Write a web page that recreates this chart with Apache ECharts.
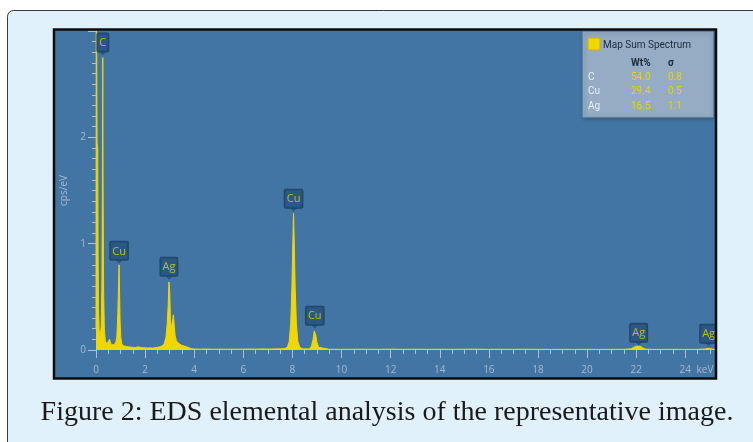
<!DOCTYPE html>
<html>
<head>
<meta charset="utf-8">
<script src="https://cdn.jsdelivr.net/npm/echarts@6/dist/echarts.min.js"></script>
<style>
html,body{margin:0;padding:0;background:#ffffff;}
#chart{width:753px;height:442px;}
</style>
</head>
<body>
<div id="chart"></div>
<script>
// ---- Data ----
const energy = [
  0.00, 0.01, 0.03, 0.045, 0.07, 0.085, 0.10, 0.13, 0.17, 0.21, 0.24, 0.26, 0.275, 0.29, 0.31, 0.34,
  0.38, 0.42, 0.45, 0.50, 0.55, 0.58, 0.62, 0.68, 0.74, 0.80, 0.85, 0.89, 0.92, 0.94, 0.955, 0.98,
  1.01, 1.05, 1.10, 1.20, 1.30, 1.40, 1.50, 1.60, 1.70, 1.75, 1.80, 1.90, 2.00, 2.10, 2.20, 2.30,
  2.40, 2.50, 2.60, 2.70, 2.78, 2.85, 2.90, 2.94, 2.97, 3.00, 3.03, 3.07, 3.11, 3.15, 3.18, 3.22,
  3.27, 3.33, 3.40, 3.48, 3.55, 3.62, 3.70, 3.80, 3.90, 4.00, 4.25, 4.50, 4.75, 5.00, 5.25, 5.50,
  5.75, 6.00, 6.25, 6.50, 6.75, 7.00, 7.25, 7.50, 7.70, 7.80, 7.87, 7.93, 7.98, 8.02, 8.045, 8.07,
  8.11, 8.16, 8.22, 8.30, 8.40, 8.60, 8.70, 8.78, 8.84, 8.89, 8.91, 8.95, 9.00, 9.07, 9.15, 9.50,
  10.0, 10.5, 11.0, 11.5, 12.0, 12.5, 13.0, 13.5, 14.0, 14.5, 15.0, 15.5, 16.0, 16.5, 17.0, 17.5,
  18.0, 18.5, 19.0, 19.5, 20.0, 20.5, 21.0, 21.5, 21.8, 21.9, 22.0, 22.1, 22.2, 22.3, 22.4, 22.6,
  23.0, 23.5, 24.0, 24.5, 24.8, 24.95, 25.1, 25.3, 26.0
];
const counts = [
  0.20, 3.60, 3.60, 1.95, 1.90, 0.90, 0.40, 0.18, 0.13, 0.22, 0.60, 1.55, 2.75, 1.50, 0.55, 0.20,
  0.08, 0.09, 0.06, 0.05, 0.10, 0.08, 0.05, 0.04, 0.05, 0.07, 0.12, 0.35, 0.62, 0.80, 0.60, 0.28,
  0.12, 0.06, 0.04, 0.035, 0.03, 0.028, 0.025, 0.022, 0.03, 0.032, 0.025, 0.022, 0.02, 0.018, 0.02, 0.018,
  0.022, 0.025, 0.03, 0.04, 0.06, 0.12, 0.25, 0.42, 0.64, 0.55, 0.30, 0.20, 0.26, 0.33, 0.25, 0.14,
  0.09, 0.07, 0.06, 0.045, 0.04, 0.035, 0.028, 0.02, 0.012, 0.01, 0.008, 0.009, 0.007, 0.008, 0.007, 0.008,
  0.007, 0.008, 0.009, 0.008, 0.01, 0.009, 0.01, 0.011, 0.014, 0.03, 0.08, 0.25, 0.60, 1.05, 1.285, 1.05,
  0.60, 0.25, 0.08, 0.025, 0.012, 0.01, 0.012, 0.04, 0.10, 0.18, 0.19, 0.14, 0.07, 0.025, 0.01, 0.007,
  0.006, 0.007, 0.007, 0.006, 0.008, 0.006, 0.007, 0.006, 0.007, 0.006, 0.007, 0.008, 0.006, 0.007, 0.006, 0.007,
  0.006, 0.005, 0.006, 0.005, 0.006, 0.005, 0.006, 0.006, 0.012, 0.025, 0.035, 0.038, 0.03, 0.015, 0.008, 0.006,
  0.005, 0.006, 0.005, 0.006, 0.009, 0.016, 0.009, 0.005, 0.005
];
const peakNames  = ['C', 'Cu', 'Ag', 'Cu', 'Cu', 'Ag', 'Ag'];
const peakEnergy = [0.277, 0.94, 2.97, 8.045, 8.91, 22.1, 24.95];
const peakTop    = [2.77, 0.81, 0.66, 1.30, 0.20, 0.04, 0.03];

const xTickLabels = ['0', '2', '4', '6', '8', '10', '12', '14', '16', '18', '20', '22', '24'];
const yTickLabels = ['0', '1', '2'];

const quantElements = ['C', 'Cu', 'Ag'];
const quantWt       = ['54.0', '29.4', '16.5'];
const quantSigma    = ['0.8', '0.5', '1.1'];

// ---- Chart ----
const chart = echarts.init(document.getElementById('chart'), null, {renderer: 'canvas'});
const tickColor = '#aec1d5';
const labelColor = '#a3b9cf';
const yellow = '#f2d600';

const spectrum = energy.map((e, i) => [e, counts[i]]);
const peaks = peakEnergy.map((e, i) => ({value: [e, peakTop[i]], name: peakNames[i]}));

const graphics = [
  {type: 'rect', z: -20, shape: {x: 7.5, y: 10.5, width: 760, height: 445, r: 6},
   style: {fill: '#e1f1fb', stroke: '#3a3a3a', lineWidth: 1}},
  {type: 'rect', z: -10, shape: {x: 53, y: 29, width: 664, height: 350},
   style: {fill: '#4375a4'}},
  {type: 'text', z: 10, x: 387, y: 413,
   style: {text: 'Figure 2: EDS elemental analysis of the representative image.',
           font: '28px "Liberation Serif"', fill: '#1a1a1a', textAlign: 'center', textVerticalAlign: 'middle'}},
  {type: 'text', z: 10, x: 705, y: 370,
   style: {text: 'keV', font: '10px "Open Sans"', fill: labelColor, textAlign: 'center', textVerticalAlign: 'middle'}},
  // cover beyond the panel's right edge (only beside the panel)
  {type: 'rect', z: 80, shape: {x: 717, y: 11, width: 50, height: 372},
   style: {fill: '#e1f1fb'}},
  {type: 'rect', z: 90, shape: {x: 54, y: 29.5, width: 662, height: 349},
   style: {fill: 'none', stroke: '#0d0d0d', lineWidth: 2.5}},
  {type: 'rect', z: 60, shape: {x: 583, y: 32, width: 130, height: 85},
   style: {fill: '#95acc4', stroke: '#8aa2bb', lineWidth: 1, shadowBlur: 4, shadowColor: 'rgba(0,0,0,0.3)', shadowOffsetX: 1, shadowOffsetY: 1}},
  {type: 'rect', z: 61, shape: {x: 588, y: 38, width: 12, height: 12},
   style: {fill: yellow, stroke: '#c9b000', lineWidth: 1}},
  {type: 'text', z: 61, x: 603, y: 45,
   style: {text: 'Map Sum Spectrum', font: '10px Roboto', fill: '#1c2b3b', textVerticalAlign: 'middle'}},
  {type: 'text', z: 61, x: 631, y: 63,
   style: {text: 'Wt%', font: 'bold 10px Roboto', fill: '#1c2b3b', textVerticalAlign: 'middle'}},
  {type: 'text', z: 61, x: 668, y: 63,
   style: {text: 'σ', font: 'bold 10px Roboto', fill: '#1c2b3b', textVerticalAlign: 'middle'}}
];
const rowY = [77, 91.5, 106];
quantElements.forEach((el, i) => {
  graphics.push({type: 'text', z: 61, x: 588, y: rowY[i],
    style: {text: el, font: '10px Roboto', fill: '#e8eff6', textVerticalAlign: 'middle'}});
  graphics.push({type: 'text', z: 61, x: 631, y: rowY[i],
    style: {text: quantWt[i], font: '10px Roboto', fill: '#ecd400', textVerticalAlign: 'middle'}});
  graphics.push({type: 'text', z: 61, x: 668, y: rowY[i],
    style: {text: quantSigma[i], font: '10px Roboto', fill: '#ecd400', textVerticalAlign: 'middle'}});
});

const option = {
  animation: false,
  backgroundColor: '#ffffff',
  grid: {left: 96, right: 18.6, top: 31, bottom: 92, containLabel: false},
  xAxis: {
    type: 'value', min: 0, max: 26, interval: 2,
    axisLine: {show: false},
    axisTick: {show: true, length: 8, lineStyle: {color: tickColor, width: 1}},
    minorTick: {show: true, splitNumber: 4, length: 4, lineStyle: {color: tickColor, width: 1}},
    splitLine: {show: false},
    axisLabel: {
      margin: 15, color: labelColor, fontSize: 10, fontFamily: 'Open Sans',
      formatter: (v) => { const s = String(v); return xTickLabels.indexOf(s) >= 0 ? s : ''; }
    }
  },
  yAxis: {
    type: 'value', min: 0, max: 3, interval: 1,
    name: 'cps/eV', nameLocation: 'middle', nameGap: 27,
    nameTextStyle: {color: labelColor, fontSize: 10, fontFamily: 'Open Sans'},
    axisLine: {show: false},
    axisTick: {show: true, length: 8, lineStyle: {color: tickColor, width: 1}},
    minorTick: {show: true, splitNumber: 10, length: 4, lineStyle: {color: tickColor, width: 1}},
    splitLine: {show: false},
    axisLabel: {
      margin: 10, color: labelColor, fontSize: 10, fontFamily: 'Open Sans',
      formatter: (v) => { const s = String(v); return yTickLabels.indexOf(s) >= 0 ? s : ''; }
    }
  },
  series: [
    {
      type: 'line', data: spectrum, showSymbol: false, symbol: 'none',
      lineStyle: {color: yellow, width: 1},
      areaStyle: {color: yellow, opacity: 1, origin: 'start'},
      clip: true, z: 3
    },
    {
      type: 'scatter', data: peaks, z: 5,
      symbol: 'path://M0,0 L10,0 L5,6 Z', symbolSize: [7, 4], symbolOffset: [0, -2],
      itemStyle: {color: '#24507c'},
      label: {
        show: true, position: 'top', distance: 0,
        formatter: (p) => p.name,
        color: '#ead300', fontSize: 11, fontFamily: 'Open Sans', lineHeight: 13,
        backgroundColor: '#24507c', borderColor: '#1a3b5d', borderWidth: 1,
        padding: [3, 2, 2, 2], borderRadius: 1
      }
    }
  ],
  graphic: graphics
};
chart.setOption(option);
</script>
</body>
</html>
